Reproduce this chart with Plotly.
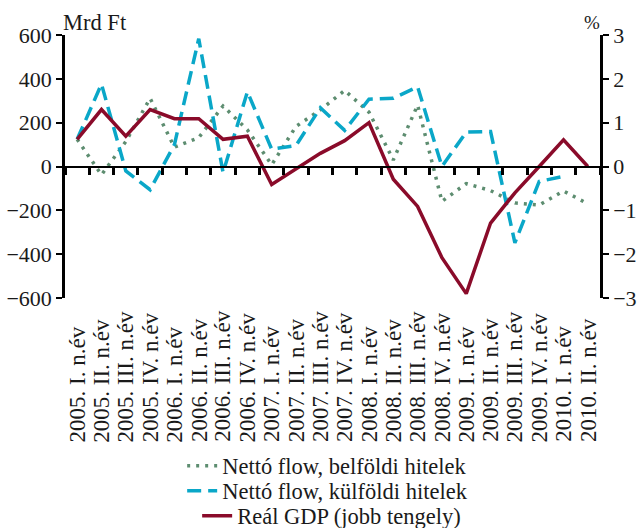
import plotly.graph_objects as go

# Quarterly periods
quarters = [
    "2005. I. n.év", "2005. II. n.év", "2005. III. n.év", "2005. IV. n.év",
    "2006. I. n.év", "2006. II. n.év", "2006. III. n.év", "2006. IV. n.év",
    "2007. I. n.év", "2007. II. n.év", "2007. III. n.év", "2007. IV. n.év",
    "2008. I. n.év", "2008. II. n.év", "2008. III. n.év", "2008. IV. n.év",
    "2009. I. n.év", "2009. II. n.év", "2009. III. n.év", "2009. IV. n.év",
    "2010. I. n.év", "2010. II. n.év",
]

# Net flow of domestic loans (billion HUF)
belfoldi = [124, -38, 114, 311, 88, 132, 276, 167, 8, 183, 258, 347,
            248, 30, 280, -159, -78, -110, -166, -176, -112, -170]

# Net flow of foreign loans (billion HUF); no figure for the last quarter
kulfoldi = [124, 376, -20, -106, 100, 583, -28, 341, 79, 96, 268, 165,
            307, 311, 364, 0, 157, 160, -348, -68, -45, None]

# Real GDP growth (%, right axis)
gdp = [0.62, 1.30, 0.69, 1.30, 1.09, 1.09, 0.62, 0.69, -0.41, -0.05, 0.30, 0.59,
       1.00, -0.29, -0.91, -2.08, -2.90, -1.29, -0.60, 0.00, 0.61, 0.00]

left_ticks = [-600, -400, -200, 0, 200, 400, 600]
right_ticks = [-3, -2, -1, 0, 1, 2, 3]

FONT = "Liberation Serif"
INK = "#1a1a1a"
GREEN = "#5d8d70"
CYAN = "#0aa7c8"
RED = "#8a0b2a"

fig = go.Figure()

fig.add_trace(go.Scatter(
    x=quarters, y=belfoldi, mode="lines", name="Nettó flow, belföldi hitelek",
    line=dict(color=GREEN, width=3.5, dash="3px,6px"), legend="legend",
))
fig.add_trace(go.Scatter(
    x=quarters, y=kulfoldi, mode="lines", name="Nettó flow, külföldi hitelek",
    line=dict(color=CYAN, width=3.5, dash="14px,7px"), legend="legend2",
))
fig.add_trace(go.Scatter(
    x=quarters, y=gdp, mode="lines", name="Reál GDP (jobb tengely)",
    line=dict(color=RED, width=3.5), yaxis="y2", legend="legend3",
))


def legend_row(x, y):
    return dict(
        x=x, y=y, xanchor="left", yanchor="middle",
        font=dict(family=FONT, size=22.5, color=INK),
        itemwidth=30, bgcolor="rgba(0,0,0,0)", borderwidth=0,
    )


# category labels under the plot, rotated and aligned at their start
period_labels = [
    dict(text=q, x=q, xref="x", yref="paper", y=-0.556,
         xanchor="center", yanchor="bottom", textangle=-90, showarrow=False,
         font=dict(family=FONT, size=23, color=INK))
    for q in quarters
]

fig.update_layout(
    width=638, height=528,
    margin=dict(l=65, r=38, t=35, b=230, autoexpand=False),
    plot_bgcolor="white", paper_bgcolor="white",
    font=dict(family=FONT, size=22, color=INK),
    showlegend=True,
    legend=legend_row(0.219, -0.639),
    legend2=legend_row(0.219, -0.734),
    legend3=legend_row(0.247, -0.829),
    # horizontal axis drawn along the zero line, ticks between quarters
    xaxis=dict(
        type="category", range=[-0.5, 21.5],
        anchor="free", position=0.5,
        showline=True, linecolor="black", linewidth=2,
        ticks="outside", tickson="boundaries", ticklen=7, tickwidth=2.5, tickcolor="black",
        showticklabels=False, showgrid=False, zeroline=False,
    ),
    yaxis=dict(
        range=[-600, 600], tickvals=left_ticks,
        showline=True, linecolor="black", linewidth=2.5,
        ticks="outside", ticklen=6, tickwidth=2, tickcolor="black",
        showgrid=False, zeroline=False,
        tickfont=dict(family=FONT, size=22, color=INK),
    ),
    yaxis2=dict(
        overlaying="y", side="right", anchor="x",
        range=[-3, 3], tickvals=right_ticks,
        showline=True, linecolor="black", linewidth=2.5,
        ticks="outside", ticklen=6, tickwidth=2, tickcolor="black",
        showgrid=False, zeroline=False,
        tickfont=dict(family=FONT, size=22, color=INK),
    ),
    annotations=[
        dict(text="Mrd Ft", xref="paper", yref="paper", x=0, y=1,
             xanchor="left", yanchor="bottom", xshift=-4, yshift=-2, showarrow=False,
             font=dict(family=FONT, size=22.5, color=INK)),
        dict(text="%", xref="paper", yref="paper", x=1, y=1,
             xanchor="right", yanchor="bottom", xshift=2, yshift=0, showarrow=False,
             font=dict(family=FONT, size=19, color=INK)),
    ] + period_labels,
)

fig.write_html("out.html")
